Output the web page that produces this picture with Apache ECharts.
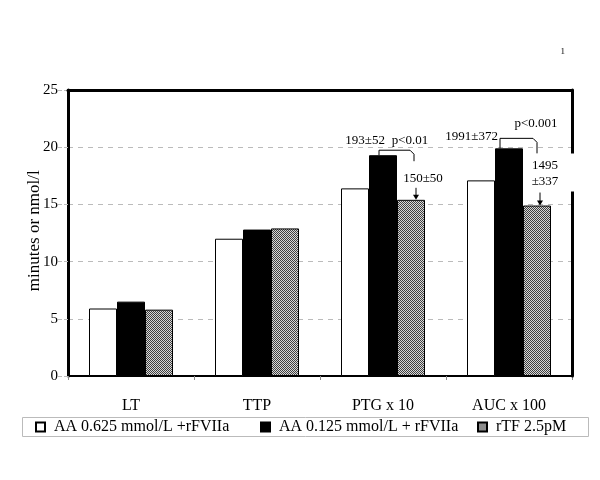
<!DOCTYPE html>
<html>
<head>
<meta charset="utf-8">
<script src="https://cdn.jsdelivr.net/npm/echarts@6/dist/echarts.min.js"></script>
<style>html,body{margin:0;padding:0;background:#fff}#c{width:600px;height:480px}</style>
</head>
<body>
<div id="c"></div>
<script>
// ---- data ----
const categories = ['LT', 'TTP', 'PTG x 10', 'AUC x 100'];
const seriesNames = ['AA 0.625 mmol/L +rFVIIa', 'AA 0.125 mmol/L + rFVIIa', 'rTF 2.5pM'];
const aa0625 = [5.9, 12.0, 16.4, 17.1];
const aa0125 = [6.5, 12.8, 19.3, 19.9];
const rtf25 = [5.8, 12.9, 15.4, 14.9];
const yTicks = [0, 5, 10, 15, 20, 25];
const yTitle = 'minutes or nmol/l';
const annotations = [
  { cat: 2, blackText: '193±52', pText: 'p<0.01', grayText: ['150±50'] },
  { cat: 3, blackText: '1991±372', pText: 'p<0.001', grayText: ['1495', '±337'] }
];

// ---- pattern ----
function makePattern() {
  const cv = document.createElement('canvas');
  cv.width = 2; cv.height = 2;
  const ctx = cv.getContext('2d');
  ctx.fillStyle = '#d8d8d8'; ctx.fillRect(0, 0, 2, 2);
  ctx.fillStyle = '#404040'; ctx.fillRect(0, 0, 1, 1); ctx.fillRect(1, 1, 1, 1);
  return cv;
}
const pat = { image: makePattern(), repeat: 'repeat' };

const FONT = 'Liberation Serif';
const chart = echarts.init(document.getElementById('c'), null, { renderer: 'canvas' });
const BW = 28;
const barStyle = (c) => ({ color: c, borderColor: '#000', borderWidth: 1 });
const legendLefts = [35, 260, 477];

chart.setOption({
  animation: false,
  backgroundColor: '#fff',
  textStyle: { fontFamily: FONT, color: '#000' },
  grid: { left: 68, right: 28, top: 90, bottom: 104, show: false },
  legend: seriesNames.map((n, i) => ({
    left: legendLefts[i], top: 419, padding: 0,
    itemWidth: 9, itemHeight: 9, icon: 'rect',
    formatter: nm => ' ' + nm,
    textStyle: { fontFamily: FONT, fontSize: 16, color: '#000' },
    data: [n]
  })),
  xAxis: [{
    type: 'category', data: categories,
    axisLine: { lineStyle: { color: '#000', width: 2 } },
    axisTick: { show: true, length: 4, lineStyle: { color: '#888' } },
    axisLabel: { fontFamily: FONT, fontSize: 16, color: '#000', margin: 22 }
  }, {
    type: 'category', data: categories, position: 'top', z: 5,
    axisLine: { onZero: false, lineStyle: { color: '#000', width: 3 } },
    axisTick: { show: false }, axisLabel: { show: false }
  }],
  yAxis: [{
    type: 'value', min: 0, max: 25, interval: 5,
    axisLine: { show: true, lineStyle: { color: '#000', width: 3 } },
    axisTick: { show: true, length: 10, lineStyle: { color: '#bbb', type: 'dashed' } },
    axisLabel: { fontFamily: FONT, fontSize: 15, color: '#000', margin: 10,
      formatter: v => yTicks.indexOf(v) >= 0 ? String(v) : '' },
    splitLine: { show: true, lineStyle: { color: '#bbb', type: [5, 5] } }
  }, {
    type: 'value', min: 0, max: 25, interval: 5, position: 'right', z: 5,
    axisLine: { show: true, onZero: false, lineStyle: { color: '#000', width: 3 } },
    axisTick: { show: false }, axisLabel: { show: false }, splitLine: { show: false }
  }],
  series: [
    { name: seriesNames[0], type: 'bar', data: aa0625, barWidth: BW, barGap: '0%', itemStyle: barStyle('#fff') },
    { name: seriesNames[1], type: 'bar', data: aa0125, barWidth: BW, barGap: '0%', itemStyle: barStyle('#000') },
    { name: seriesNames[2], type: 'bar', data: rtf25, barWidth: BW, barGap: '0%', itemStyle: barStyle(pat) }
  ]
});

// ---- annotations (positions derived from data via axes) ----
const layout = [
  { bracketUp: 5, lx: -4, rxg: 3, dropTo: 11, blackDx: 2, blackDy: -15, pDx: 27, pDy: -15,
    gDx: 12, gDy: [-21], arrowDx: 5, arrowLen: 12, box: null },
  { bracketUp: 10, lx: -9, rxg: 0, dropTo: 15, blackDx: -11, blackDy: -12, pDx: 27, pDy: -25,
    gDx: 8, gDy: [-40, -24], arrowDx: 3, arrowLen: 13, box: [-9, -52, 52, 38] }
];
const g = [];
const ts = { fontFamily: FONT, fontSize: 13, fill: '#000' };
annotations.forEach((a, i) => {
  const L = layout[i];
  const pb = chart.convertToPixel({ xAxisIndex: 0, yAxisIndex: 0 }, [a.cat, aa0125[a.cat]]);
  const pg = chart.convertToPixel({ xAxisIndex: 0, yAxisIndex: 0 }, [a.cat, rtf25[a.cat]]);
  const cx = pb[0], bt = pb[1], gx = cx + BW, gt = pg[1];
  const by = bt - L.bracketUp;
  const lx = cx + L.lx, rx = gx + L.rxg;
  const dropY = by + L.dropTo;
  if (L.box) {
    g.push({ type: 'rect', z: 100, shape: { x: gx + L.box[0], y: gt + L.box[1], width: L.box[2], height: L.box[3] }, style: { fill: '#fff' } });
  }
  g.push({ type: 'polyline', z: 101, shape: { points: [[lx, bt], [lx, by], [rx - 4, by], [rx, by + 4], [rx, dropY]] }, style: { stroke: '#000', lineWidth: 1, fill: null } });
  g.push({ type: 'text', z: 101, x: cx + L.blackDx, y: bt + L.blackDy, style: Object.assign({ text: a.blackText, align: 'right', verticalAlign: 'middle' }, ts) });
  g.push({ type: 'text', z: 101, x: cx + L.pDx, y: bt + L.pDy, style: Object.assign({ text: a.pText, align: 'center', verticalAlign: 'middle' }, ts) });
  a.grayText.forEach((t, k) => {
    g.push({ type: 'text', z: 101, x: gx + L.gDx, y: gt + L.gDy[k], style: Object.assign({ text: t, align: 'center', verticalAlign: 'middle' }, ts) });
  });
  const ax = gx + L.arrowDx;
  g.push({ type: 'line', z: 101, shape: { x1: ax, y1: gt - L.arrowLen, x2: ax, y2: gt - 3 }, style: { stroke: '#000', lineWidth: 1 } });
  g.push({ type: 'polygon', z: 101, shape: { points: [[ax - 3, gt - 5], [ax + 3, gt - 5], [ax, gt]] }, style: { fill: '#000' } });
});
// y axis title
const midY = chart.convertToPixel({ yAxisIndex: 0 }, 12.7);
g.push({ type: 'text', x: 35, y: midY, rotation: Math.PI / 2, style: { text: yTitle, fontFamily: FONT, fontSize: 17, fill: '#000', align: 'center', verticalAlign: 'middle' } });
// legend frame
g.push({ type: 'rect', z: -1, shape: { x: 22.5, y: 417.5, width: 566, height: 19 }, style: { fill: null, stroke: '#bbb', lineWidth: 1 } });
g.push({ type: 'text', right: 35, top: 47, style: { text: '1', fontFamily: FONT, fontSize: 9, fill: '#000' } });
chart.setOption({ graphic: g });
</script>
</body>
</html>
